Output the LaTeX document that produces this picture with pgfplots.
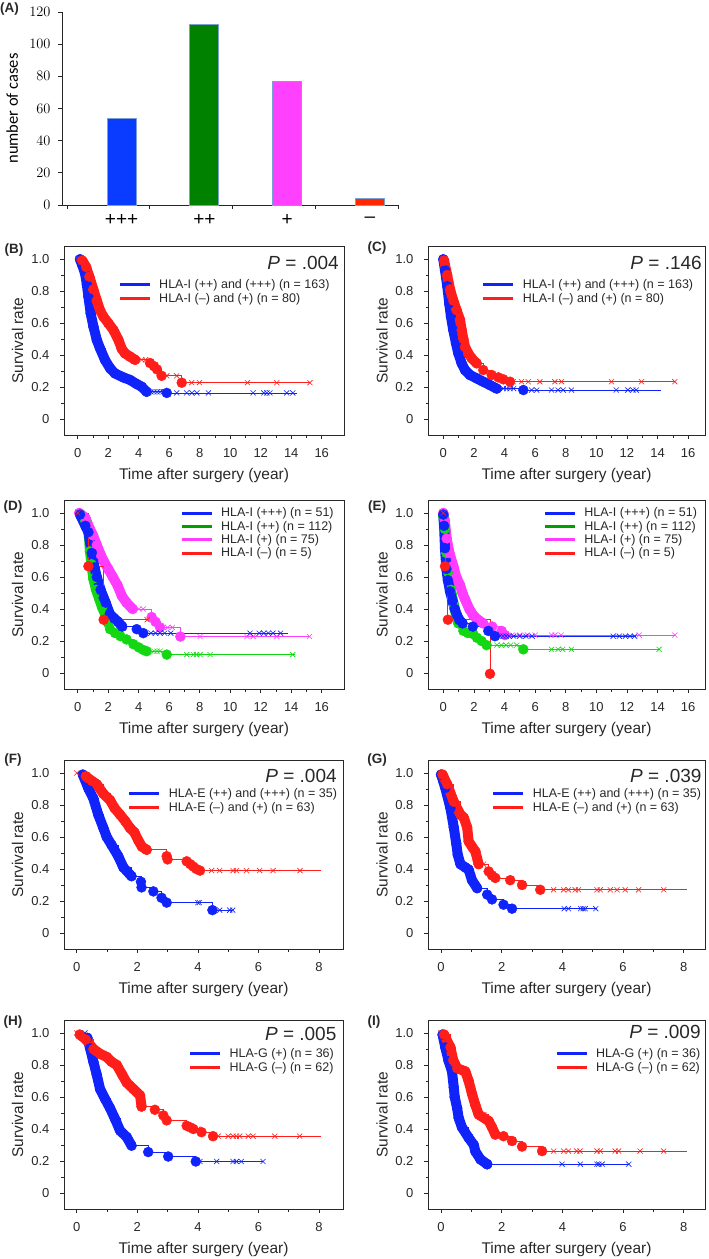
\documentclass[border=0pt]{standalone}
\usepackage{fontspec}
\setmainfont{Liberation Sans}
\newfontfamily\calibri{Carlito}
\usepackage{pgfplots}
\pgfplotsset{compat=1.18}

\definecolor{kmblue}{RGB}{15,35,250}
\definecolor{kmred}{RGB}{255,30,25}
\definecolor{kmgreen}{RGB}{20,215,20}
\definecolor{leggreen}{RGB}{0,160,0}
\definecolor{kmmag}{RGB}{255,60,255}
\definecolor{barblue}{RGB}{10,60,255}
\definecolor{bargreen}{RGB}{0,130,0}
\definecolor{barmag}{RGB}{255,64,255}
\definecolor{barred}{RGB}{255,40,0}
\definecolor{baredge}{RGB}{120,160,210}
\definecolor{axgray}{RGB}{40,40,40}

\tikzset{
  pval/.style={anchor=east, inner sep=0pt, font=\fontsize{19}{19}\selectfont, text=axgray},
  plab/.style={font=\bfseries\fontsize{13.5}{13.5}\selectfont, text=axgray, inner sep=0pt},
}

\pgfplotsset{
  km/.style={scale only axis, height=189pt, ymin=-0.1, ymax=1.081,
    ytick={0,0.2,0.4,0.6,0.8,1}, yticklabels={0,0.2,0.4,0.6,0.8,1.0},
    minor y tick num=1, minor x tick num=1,
    tick align=outside, tick pos=left,
    major tick length=4pt, minor tick length=2.5pt,
    axis line style={line width=0.9pt, axgray},
    every tick/.style={axgray, line width=0.7pt},
    tick label style={font=\fontsize{13}{13}\selectfont, text=axgray},
    yticklabel style={xshift=-7pt},
    xticklabel style={yshift=-6pt},
    xlabel={Time after surgery (year)}, ylabel={Survival rate},
    every axis x label/.style={at={(axis description cs:0.5,-0.212)}, anchor=center,
      font=\fontsize{15.5}{16}\selectfont, text=axgray},
    every axis y label/.style={at={(axis description cs:-0.166,0.5)}, anchor=center, rotate=90,
      font=\fontsize{15.5}{16}\selectfont, text=axgray},
    legend image code/.code={\draw[#1, line width=3pt] (0pt,0pt) -- (30pt,0pt);},
    legend style={draw=none, fill=none, anchor=north west,
      font=\fontsize{12.5}{14}\selectfont, text=axgray, row sep=1.5pt,
      inner sep=0pt, nodes={inner sep=1pt},
      /tikz/every odd column/.append style={column sep=7pt}},
    legend cell align=left,
  },
  kmLlong/.style={km, width=280pt, xmin=-0.9, xmax=17.46, xtick={0,2,...,16},
    xticklabels={0,2,4,6,8,10,12,14,16}},
  kmRlong/.style={km, width=277pt, xmin=-1.0, xmax=17.1, xtick={0,2,...,16},
    xticklabels={0,2,4,6,8,10,12,14,16}},
  kmLshort/.style={km, width=279pt, xmin=-0.42, xmax=8.79, xtick={0,2,4,6,8},
    xticklabels={0,2,4,6,8}},
  kmRshort/.style={km, width=277pt, xmin=-0.43, xmax=8.70, xtick={0,2,4,6,8},
    xticklabels={0,2,4,6,8}},
  stp/.style={const plot, line width=0.8pt, forget plot},
  band/.style={line width=10pt, line cap=round, line join=round, forget plot},
  dot/.style={only marks, mark=*, mark size=5pt, forget plot},
  cen/.style={only marks, mark=x, mark size=3.6pt, mark options={line width=0.6pt}, forget plot},
}

% colour, dense events, sparse events, censored, last point of the step line
\newcommand{\kmcurve}[5]{%
  \addplot[stp,#1] coordinates {(0,1) #2 #3 #5};
  \addplot[band,#1] coordinates {#2};
  \addplot[dot,#1] coordinates {#2 #3};
  \addplot[cen,#1] coordinates {#4};
}

\begin{document}
\begin{tikzpicture}
\path[use as bounding box] (0,0) rectangle (709pt,-1259pt);

\node[plab, anchor=west] at (0pt,-9pt) {(A)};
\node[plab] at (14pt,-250pt) {(B)};
\node[plab] at (377pt,-248pt) {(C)};
\node[plab] at (13pt,-507pt) {(D)};
\node[plab] at (377pt,-507pt) {(E)};
\node[plab] at (13pt,-760pt) {(F)};
\node[plab] at (377pt,-760pt) {(G)};
\node[plab] at (13pt,-1022pt) {(H)};
\node[plab] at (374pt,-1022pt) {(I)};

% (A) number of cases by HLA-I grade
\begin{axis}[scale only axis, width=336pt, height=193pt,
  at={(62pt,-205pt)}, anchor=south west,
  xmin=-0.06, xmax=4, ymin=0, ymax=120,
  axis x line=bottom, axis y line=left,
  axis line style={-, line width=0.9pt, black!85},
  every tick/.style={black!85, line width=0.8pt},
  tick align=outside, major tick length=4pt,
  xtick={0,1,2,3,4}, xticklabels={},
  ytick={0,20,...,120},
  yticklabel style={font=\calibri\fontsize{15.5}{15.5}\selectfont, xshift=-4pt},
  extra x ticks={0.66,1.66,2.66,3.66},
  extra x tick labels={+++,++,+,–},
  extra x tick style={major tick length=0pt,
    tick label style={font=\fontsize{19}{19}\selectfont, anchor=center, yshift=-15pt}},
  ylabel={number of cases},
  every axis y label/.style={at={(axis description cs:-0.148,0.5)}, anchor=center, rotate=90,
    font=\calibri\fontsize{16.5}{17}\selectfont},
  ybar, bar width=29pt,
]
\addplot[bar shift=0pt, fill=barblue, draw=baredge, line width=0.8pt] coordinates {(0.66,54)};
\addplot[bar shift=0pt, fill=bargreen, draw=baredge, line width=0.8pt] coordinates {(1.66,112)};
\addplot[bar shift=0pt, fill=barmag, draw=baredge, line width=0.8pt] coordinates {(2.66,77)};
\addplot[bar shift=0pt, fill=barred, draw=baredge, line width=0.8pt] coordinates {(3.66,4)};
\end{axis}

% (B)
\begin{axis}[kmLlong, at={(64pt,-435pt)}, anchor=south west,
  legend style={at={(axis description cs:0.193,0.832)}}]
\kmcurve{kmblue}
  {(0.15,0.998)(0.3,0.96)(0.48,0.91)(0.6,0.84)(0.7,0.765)(0.85,0.66)(1.03,0.577)(1.25,0.494)(1.46,0.442)(1.79,0.369)(2.12,0.317)(2.44,0.285)(2.99,0.26)(3.43,0.244)(3.86,0.219)(4.19,0.202)(4.52,0.17)}
  {(5.84,0.163)}
  {(4.8,0.17)(5.0,0.17)(5.2,0.17)(5.4,0.17)(5.6,0.17)(6.49,0.163)(7.14,0.163)(7.48,0.163)(7.81,0.163)(8.57,0.163)(11.5,0.163)(12.2,0.163)(12.4,0.163)(12.6,0.163)(13.7,0.163)(14.1,0.163)}
  {(14.4,0.163)}
\kmcurve{kmred}
  {(0.3,0.99)(0.55,0.95)(0.76,0.89)(1.02,0.81)(1.25,0.74)(1.46,0.68)(1.68,0.64)(2.0,0.6)(2.34,0.556)(2.67,0.494)(2.88,0.44)(3.1,0.41)(3.43,0.39)(3.76,0.37)}
  {(4.74,0.35)(5.0,0.33)(5.2,0.31)(5.5,0.27)(6.82,0.227)}
  {(0,1)(0.15,1)(4.2,0.37)(4.45,0.37)(5.84,0.27)(6.49,0.27)(7.47,0.227)(7.98,0.227)(11.13,0.227)(13.05,0.227)(15.23,0.227)}
  {(15.23,0.227)}
\addlegendimage{kmblue}\addlegendentry{HLA-I (++) and (+++) (n = 163)}
\addlegendimage{kmred}\addlegendentry{HLA-I (–) and (+) (n = 80)}
\node[pval] at (rel axis cs:0.982,0.912) {\textit{P} = .004};
\end{axis}

% (C)
\begin{axis}[kmRlong, at={(428pt,-435pt)}, anchor=south west,
  legend style={at={(axis description cs:0.194,0.832)}}]
\kmcurve{kmblue}
  {(0,0.998)(0.11,0.93)(0.26,0.83)(0.39,0.72)(0.5,0.64)(0.65,0.556)(0.83,0.473)(0.98,0.41)(1.2,0.348)(1.42,0.306)(1.74,0.275)(2.18,0.254)(2.61,0.233)(3.05,0.212)(3.49,0.19)}
  {(5.23,0.181)}
  {(3.92,0.19)(4.14,0.19)(4.36,0.19)(4.6,0.19)(5.77,0.181)(6.1,0.181)(7.07,0.181)(7.5,0.181)(7.83,0.181)(8.37,0.181)(11.3,0.181)(12.06,0.181)(12.39,0.181)(12.6,0.181)}
  {(14.25,0.181)}
\kmcurve{kmred}
  {(0.05,0.99)(0.25,0.9)(0.44,0.81)(0.65,0.74)(0.87,0.68)(1.09,0.62)(1.2,0.556)(1.31,0.5)(1.42,0.45)(1.63,0.41)(1.85,0.38)(2.18,0.348)}
  {(2.61,0.306)(3.16,0.275)(3.6,0.26)(3.92,0.248)(4.36,0.233)}
  {(0,1)(4.57,0.233)(5.11,0.233)(5.55,0.233)(6.31,0.233)(7.29,0.233)(7.73,0.233)(10.99,0.233)(12.95,0.233)(15.13,0.233)}
  {(15.13,0.233)}
\addlegendimage{kmblue}\addlegendentry{HLA-I (++) and (+++) (n = 163)}
\addlegendimage{kmred}\addlegendentry{HLA-I (–) and (+) (n = 80)}
\node[pval] at (rel axis cs:0.989,0.912) {\textit{P} = .146};
\end{axis}

% (D)
\begin{axis}[kmLlong, at={(64pt,-689pt)}, anchor=south west,
  legend style={at={(axis description cs:0.414,0.965)}, row sep=0.8pt}]
\kmcurve{kmgreen}
  {(0.2,0.99)(0.5,0.95)(0.7,0.9)(0.8,0.76)(0.9,0.68)(1.02,0.59)(1.2,0.52)(1.42,0.46)(1.6,0.41)(1.83,0.36)(2.0,0.31)}
  {(2.12,0.274)(2.45,0.25)(2.8,0.23)(3.2,0.21)(3.65,0.18)(4.0,0.16)(4.3,0.144)(4.52,0.136)(5.84,0.115)}
  {(5.0,0.136)(5.2,0.136)(5.4,0.136)(7.15,0.115)(7.58,0.115)(7.8,0.115)(8.02,0.115)(8.68,0.115)(14.1,0.115)}
  {(14.25,0.115)}
\kmcurve{kmmag}
  {(0.1,1.0)(0.5,0.97)(0.8,0.9)(1.0,0.86)(1.25,0.8)(1.5,0.74)(1.7,0.7)(2.0,0.65)(2.3,0.6)(2.6,0.55)(2.9,0.48)(3.2,0.44)(3.6,0.40)}
  {(4.85,0.35)(5.1,0.32)(5.4,0.285)(6.73,0.228)}
  {(0,1)(4.0,0.4)(4.3,0.4)(5.6,0.285)(5.9,0.285)(6.2,0.285)(8.02,0.228)(11.1,0.228)(11.5,0.228)(13.05,0.228)(15.2,0.228)}
  {(15.2,0.228)}
\kmcurve{kmblue}
  {(0.15,0.99)(0.5,0.92)(0.7,0.88)(0.92,0.75)(1.1,0.66)(1.25,0.6)(1.5,0.52)(1.7,0.47)(1.83,0.44)(2.1,0.37)(2.4,0.34)(2.65,0.32)(2.92,0.29)}
  {(3.87,0.274)(4.3,0.249)}
  {(4.8,0.249)(5.1,0.249)(5.4,0.249)(5.7,0.249)(6.1,0.249)(11.3,0.249)(11.9,0.249)(12.2,0.249)(12.5,0.249)(12.8,0.249)(13.3,0.249)}
  {(13.8,0.249)}
\addplot[stp,kmred] coordinates {(0,1)(0.7,0.667)(1.7,0.333)(4.55,0.333)};
\addplot[dot,kmred] coordinates {(0.7,0.667)(1.7,0.333)};
\addplot[cen,kmred] coordinates {(0,1)(4.55,0.333)};
\addlegendimage{kmblue}\addlegendentry{HLA-I (+++) (n = 51)}
\addlegendimage{leggreen}\addlegendentry{HLA-I (++) (n = 112)}
\addlegendimage{kmmag}\addlegendentry{HLA-I (+) (n = 75)}
\addlegendimage{kmred}\addlegendentry{HLA-I (–) (n = 5)}
\end{axis}

% (E)
\begin{axis}[kmRlong, at={(428pt,-689pt)}, anchor=south west,
  legend style={at={(axis description cs:0.416,0.965)}, row sep=0.8pt}]
\kmcurve{kmgreen}
  {(0,0.98)(0.1,0.9)(0.2,0.75)(0.35,0.62)(0.5,0.52)(0.7,0.42)(0.85,0.35)(0.99,0.31)}
  {(1.31,0.264)(1.6,0.25)(1.96,0.243)(2.2,0.22)(2.5,0.2)(2.83,0.174)(5.23,0.148)}
  {(3.5,0.174)(3.8,0.174)(4.1,0.174)(4.4,0.174)(4.8,0.174)(7.07,0.148)(7.5,0.148)(7.8,0.148)(8.37,0.148)(14.1,0.148)}
  {(14.15,0.148)}
\kmcurve{kmmag}
  {(0,1.0)(0.1,0.95)(0.22,0.84)(0.4,0.75)(0.65,0.67)(0.85,0.6)(1.09,0.55)(1.25,0.5)(1.42,0.46)(1.7,0.4)(1.96,0.36)(2.3,0.33)(2.61,0.31)}
  {(3.2,0.29)(3.81,0.263)(4.03,0.237)}
  {(4.5,0.237)(5.0,0.237)(5.5,0.237)(6.0,0.237)(7.07,0.237)(7.3,0.237)(7.7,0.237)(12.8,0.237)(15.13,0.237)}
  {(15.13,0.237)}
\kmcurve{kmblue}
  {(0,0.99)(0.05,0.92)(0.11,0.78)(0.2,0.65)(0.3,0.58)(0.44,0.51)(0.6,0.45)(0.75,0.4)(0.9,0.36)(1.05,0.33)(1.26,0.31)}
  {(1.93,0.29)(2.94,0.263)(3.38,0.23)}
  {(3.7,0.23)(3.9,0.23)(4.1,0.23)(4.3,0.23)(4.6,0.23)(5.0,0.23)(5.4,0.23)(5.8,0.23)(11.1,0.23)(11.5,0.23)(11.9,0.23)(12.2,0.23)(12.5,0.23)}
  {(12.6,0.23)}
\addplot[stp,kmred] coordinates {(0,1)(0.11,0.667)(0.3,0.333)(3.05,-0.005)};
\addplot[dot,kmred] coordinates {(0.11,0.667)(0.3,0.333)(3.05,-0.005)};
\addplot[cen,kmred] coordinates {(0,1)};
\addlegendimage{kmblue}\addlegendentry{HLA-I (+++) (n = 51)}
\addlegendimage{leggreen}\addlegendentry{HLA-I (++) (n = 112)}
\addlegendimage{kmmag}\addlegendentry{HLA-I (+) (n = 75)}
\addlegendimage{kmred}\addlegendentry{HLA-I (–) (n = 5)}
\end{axis}

% (F)
\begin{axis}[kmLshort, at={(64pt,-949pt)}, anchor=south west,
  legend style={at={(axis description cs:0.228,0.856)}}]
\kmcurve{kmblue}
  {(0.2,0.99)(0.38,0.906)(0.55,0.84)(0.71,0.74)(0.88,0.656)(0.99,0.6)(1.15,0.55)(1.37,0.48)(1.54,0.41)(1.81,0.355)}
  {(2.12,0.32)(2.14,0.285)(2.53,0.26)(2.8,0.22)(2.97,0.19)(4.48,0.143)}
  {(4.0,0.19)(4.05,0.19)(4.72,0.143)(5.05,0.143)(5.15,0.143)}
  {(5.15,0.143)}
\kmcurve{kmred}
  {(0.3,0.98)(0.5,0.95)(0.66,0.93)(0.88,0.87)(1.1,0.83)(1.25,0.78)(1.43,0.74)(1.6,0.7)(1.76,0.656)(1.9,0.63)(2.03,0.58)(2.15,0.54)(2.31,0.52)}
  {(2.97,0.48)(3.0,0.46)(3.63,0.448)(3.75,0.43)(3.85,0.415)(3.95,0.4)(4.07,0.39)}
  {(0,1)(1.65,0.69)(4.45,0.39)(4.72,0.39)(5.16,0.39)(5.27,0.39)(5.6,0.39)(6.04,0.39)(6.48,0.39)(7.37,0.39)}
  {(8.08,0.39)}
\addlegendimage{kmblue}\addlegendentry{HLA-E (++) and (+++) (n = 35)}
\addlegendimage{kmred}\addlegendentry{HLA-E (–) and (+) (n = 63)}
\node[pval] at (rel axis cs:0.978,0.916) {\textit{P} = .004};
\end{axis}

% (G)
\begin{axis}[kmRshort, at={(428pt,-949pt)}, anchor=south west,
  legend style={at={(axis description cs:0.23,0.856)}}]
\kmcurve{kmblue}
  {(0,0.99)(0.14,0.906)(0.31,0.78)(0.42,0.66)(0.5,0.56)(0.55,0.49)(0.64,0.43)(0.8,0.41)(0.91,0.396)(1.02,0.33)(1.19,0.28)}
  {(1.52,0.24)(1.68,0.21)(2.06,0.177)(2.34,0.152)}
  {(4.06,0.152)(4.2,0.152)(4.6,0.152)(4.68,0.152)(4.75,0.152)(5.1,0.152)}
  {(5.14,0.152)}
\kmcurve{kmred}
  {(0.05,0.99)(0.2,0.93)(0.42,0.82)(0.64,0.74)(0.75,0.72)(0.86,0.66)(0.91,0.573)(1.02,0.54)(1.13,0.51)(1.24,0.43)}
  {(1.57,0.385)(1.68,0.36)(1.79,0.344)(2.28,0.33)(2.67,0.3)(3.27,0.27)}
  {(0,1)(1.4,0.43)(3.71,0.27)(4.04,0.27)(4.2,0.27)(4.42,0.27)(4.53,0.27)(5.14,0.27)(5.25,0.27)(5.58,0.27)(5.8,0.27)(6.07,0.27)(6.51,0.27)(7.34,0.27)}
  {(8.11,0.27)}
\addlegendimage{kmblue}\addlegendentry{HLA-E (++) and (+++) (n = 35)}
\addlegendimage{kmred}\addlegendentry{HLA-E (–) and (+) (n = 63)}
\node[pval] at (rel axis cs:0.988,0.916) {\textit{P} = .039};
\end{axis}

% (H)
\begin{axis}[kmLshort, at={(64pt,-1209pt)}, anchor=south west,
  legend style={at={(axis description cs:0.446,0.856)}}]
\kmcurve{kmblue}
  {(0.35,0.97)(0.44,0.905)(0.55,0.82)(0.66,0.74)(0.77,0.65)(0.93,0.59)(1.1,0.53)(1.26,0.465)(1.43,0.39)(1.65,0.35)(1.81,0.296)}
  {(2.36,0.256)(3.02,0.228)(3.93,0.197)}
  {(0.27,1)(4.07,0.197)(4.62,0.197)(5.16,0.197)(5.27,0.197)(5.43,0.197)(6.15,0.197)}
  {(6.15,0.197)}
\kmcurve{kmred}
  {(0.1,0.99)(0.3,0.96)(0.55,0.9)(0.77,0.87)(0.99,0.85)(1.15,0.82)(1.32,0.8)(1.5,0.74)(1.65,0.69)(1.87,0.65)(2.09,0.61)(2.14,0.54)}
  {(2.58,0.52)(2.86,0.485)(2.97,0.454)(3.63,0.42)(3.75,0.41)(3.85,0.4)(4.12,0.38)(4.5,0.355)}
  {(0,1)(1.48,0.76)(4.0,0.4)(4.67,0.355)(5.0,0.355)(5.16,0.355)(5.27,0.355)(5.38,0.355)(5.66,0.355)(5.82,0.355)(6.54,0.355)(7.36,0.355)}
  {(8.08,0.355)}
\addlegendimage{kmblue}\addlegendentry{HLA-G (+) (n = 36)}
\addlegendimage{kmred}\addlegendentry{HLA-G (–) (n = 62)}
\node[pval] at (rel axis cs:0.977,0.925) {\textit{P} = .005};
\end{axis}

% (I)
\begin{axis}[kmRshort, at={(428pt,-1209pt)}, anchor=south west,
  legend style={at={(axis description cs:0.458,0.856)}}]
\kmcurve{kmblue}
  {(0.05,0.99)(0.14,0.91)(0.25,0.825)(0.36,0.76)(0.42,0.66)(0.45,0.6)(0.53,0.53)(0.58,0.47)(0.69,0.41)(0.91,0.345)(1.08,0.3)(1.13,0.26)(1.3,0.21)(1.52,0.18)}
  {(1.52,0.18)}
  {(3.99,0.18)(4.59,0.18)(5.14,0.18)(5.2,0.18)(5.31,0.18)(6.19,0.18)}
  {(6.19,0.18)}
\kmcurve{kmred}
  {(0.1,0.99)(0.31,0.91)(0.4,0.83)(0.53,0.78)(0.8,0.76)(0.91,0.7)(1.02,0.62)(1.13,0.55)(1.24,0.49)(1.57,0.45)(1.68,0.41)(1.79,0.365)}
  {(2.06,0.355)(2.34,0.325)(2.67,0.29)(3.33,0.262)}
  {(0,1)(1.41,0.49)(3.71,0.262)(4.04,0.262)(4.2,0.262)(4.47,0.262)(4.58,0.262)(5.14,0.262)(5.25,0.262)(5.74,0.262)(5.85,0.262)(6.56,0.262)(7.34,0.262)}
  {(8.11,0.262)}
\addlegendimage{kmblue}\addlegendentry{HLA-G (+) (n = 36)}
\addlegendimage{kmred}\addlegendentry{HLA-G (–) (n = 62)}
\node[pval] at (rel axis cs:0.985,0.936) {\textit{P} = .009};
\end{axis}
\end{tikzpicture}
\end{document}
